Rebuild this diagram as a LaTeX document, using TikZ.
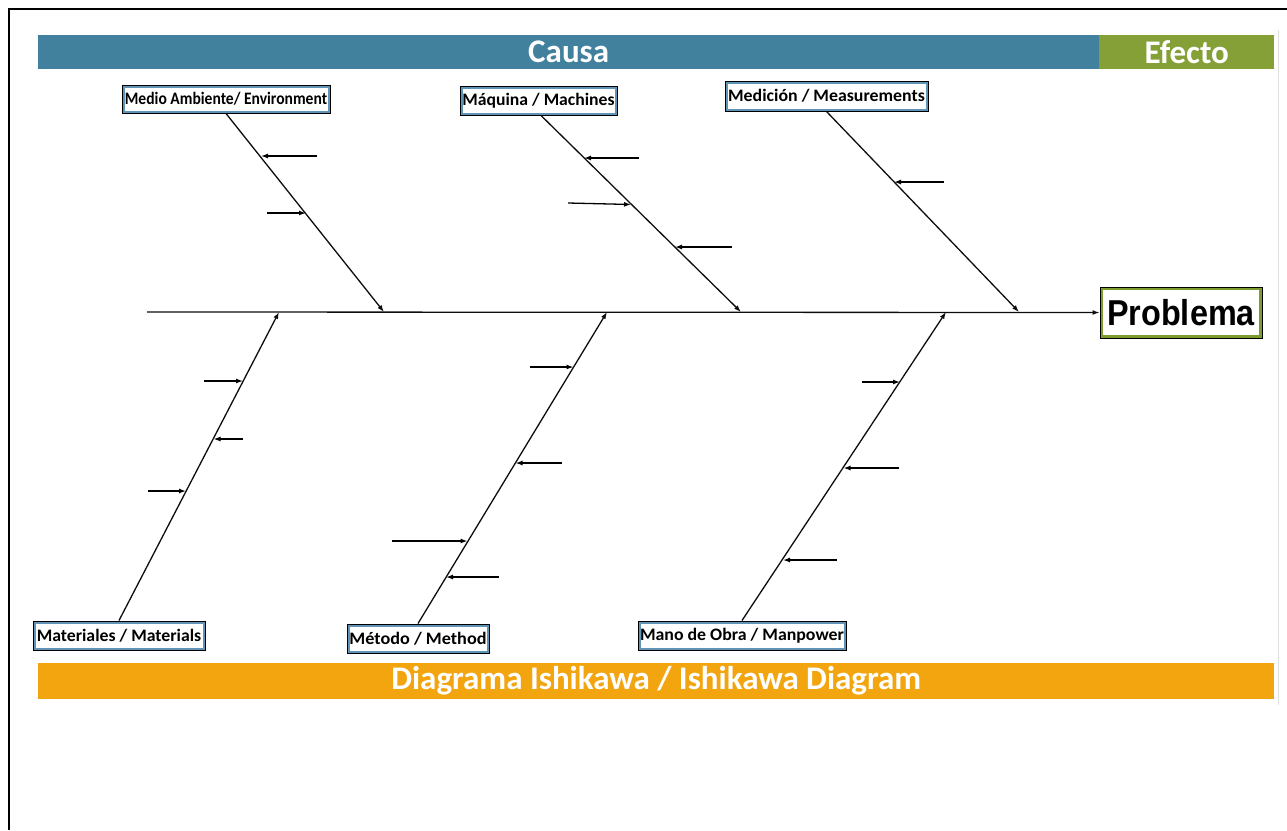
\documentclass[tikz,border=0pt]{standalone}
\usepackage{fontspec}
\setmainfont{Carlito}
\newfontfamily\arialfont{Liberation Sans}
\usetikzlibrary{arrows.meta,calc}
\definecolor{causablue}{RGB}{66,129,158}
\definecolor{efectogreen}{RGB}{134,160,56}
\definecolor{titleorange}{RGB}{242,165,15}
\definecolor{boxblue}{RGB}{96,148,182}
\definecolor{boxgreen}{RGB}{124,156,48}
\tikzset{
  bar/.style={inner sep=0pt, anchor=north west, text=white, font=\fontsize{33}{33}\selectfont\bfseries},
  labelbox/.style={draw=black, line width=1pt, fill=white, inner sep=0pt,
    font=\fontsize{17.5}{17.5}\selectfont\bfseries,
    path picture={\draw[boxblue, line width=5pt] (path picture bounding box.south west) rectangle (path picture bounding box.north east);}},
  effectbox/.style={draw=black, line width=1pt, fill=white, inner sep=0pt,
    path picture={\draw[boxgreen, line width=6pt] (path picture bounding box.south west) rectangle (path picture bounding box.north east);}},
  bone/.style={draw=black!95, line width=1.3pt, -{Latex[length=7pt,width=5pt]}},
  rib/.style={draw=black, line width=1.3pt, -{Latex[length=7pt,width=5pt]}}
}
\begin{document}
\begin{tikzpicture}[x=1pt,y=-1pt]
\useasboundingbox (0,0) rectangle (1287,830);
% frame
\draw[line width=2.5pt] (9,830) -- (9,9) -- (1287,9);
\draw[black!12, line width=1pt] (1278,30) -- (1278,705);
% header bars
\node[bar, fill=causablue, minimum width=1061pt, minimum height=34pt] (causa) at (38,35) {Causa};
\node[bar, fill=efectogreen, minimum width=175pt, minimum height=34pt] (efecto) at (1099,35) {Efecto};
\node[bar, fill=titleorange, minimum width=1236pt, minimum height=36pt] (titulo) at (38,663) {Diagrama Ishikawa / Ishikawa Diagram};
% category boxes
\node[labelbox, minimum width=208pt, minimum height=28pt] (medio) at (226,99) {\scalebox{0.89}[1]{Medio Ambiente/ Environment}};
\node[labelbox, minimum width=157pt, minimum height=29pt] (maquina) at (538.5,100.5) {\scalebox{1.01}[1]{Máquina / Machines}};
\node[labelbox, minimum width=203pt, minimum height=30pt] (medicion) at (826.5,96) {\scalebox{1.02}[1]{Medición / Measurements}};
\node[labelbox, minimum width=172pt, minimum height=29pt] (materiales) at (119,635.5) {\scalebox{1.015}[1]{Materiales / Materials}};
\node[labelbox, minimum width=142pt, minimum height=29pt] (metodo) at (418,638.5) {\scalebox{1.04}[1]{Método / Method}};
\node[labelbox, minimum width=208pt, minimum height=29pt] (mano) at (742,635.5) {\scalebox{1.02}[1]{Mano de Obra / Manpower}};
\node[effectbox, minimum width=162pt, minimum height=51pt] (problema) at (1181,312.5) {\arialfont\fontsize{36}{36}\selectfont\bfseries\scalebox{0.9}[1]{Problema}};
% spine
\coordinate (tail) at (147,312);
\draw[bone] (tail) -- (problema.west);
% bone ends on spine
\coordinate (eMedio) at (384,312);
\coordinate (eMaq) at (741,312);
\coordinate (eMed) at (1019,312);
\coordinate (eMat) at (279,312);
\coordinate (eMet) at (607,312);
\coordinate (eMano) at (946,312);
\draw[bone] (medio.south) -- (eMedio);
\draw[bone] ($(maquina.south)+(2.5,0)$) -- (eMaq);
\draw[bone] (medicion.south) -- (eMed);
\draw[bone] (materiales.north) -- (eMat);
\draw[bone] (metodo.north) -- (eMet);
\draw[bone] (mano.north) -- (eMano);
% ribs: Medio Ambiente
\coordinate (a1s) at (317,156); \coordinate (a1e) at (261,156);
\coordinate (a2s) at (267,213); \coordinate (a2e) at (306,213);
\draw[rib] (a1s) -- (a1e);
\draw[rib] (a2s) -- (a2e);
% ribs: Maquina
\coordinate (b1s) at (639,158); \coordinate (b1e) at (584,158);
\coordinate (b2s) at (568,203); \coordinate (b2e) at (631,204.5);
\coordinate (b3s) at (732,247); \coordinate (b3e) at (675,247);
\draw[rib] (b1s) -- (b1e);
\draw[rib] (b2s) -- (b2e);
\draw[rib] (b3s) -- (b3e);
% ribs: Medicion
\coordinate (c1s) at (944,182); \coordinate (c1e) at (894,182);
\draw[rib] (c1s) -- (c1e);
% ribs: Materiales
\coordinate (d1s) at (204,381); \coordinate (d1e) at (243,381);
\coordinate (d2s) at (243,439); \coordinate (d2e) at (213.5,439);
\coordinate (d3s) at (148,491); \coordinate (d3e) at (186,491);
\draw[rib] (d1s) -- (d1e);
\draw[rib] (d2s) -- (d2e);
\draw[rib] (d3s) -- (d3e);
% ribs: Metodo
\coordinate (e1s) at (530,367); \coordinate (e1e) at (573.5,367);
\coordinate (e2s) at (562,463); \coordinate (e2e) at (515.5,463);
\coordinate (e3s) at (392,541); \coordinate (e3e) at (467.5,541);
\coordinate (e4s) at (499,577); \coordinate (e4e) at (446,577);
\draw[rib] (e1s) -- (e1e);
\draw[rib] (e2s) -- (e2e);
\draw[rib] (e3s) -- (e3e);
\draw[rib] (e4s) -- (e4e);
% ribs: Mano de Obra
\coordinate (f1s) at (862,382); \coordinate (f1e) at (900,382);
\coordinate (f2s) at (899,468); \coordinate (f2e) at (843.5,468);
\coordinate (f3s) at (837,560); \coordinate (f3e) at (783,560);
\draw[rib] (f1s) -- (f1e);
\draw[rib] (f2s) -- (f2e);
\draw[rib] (f3s) -- (f3e);
\end{tikzpicture}
\end{document}
